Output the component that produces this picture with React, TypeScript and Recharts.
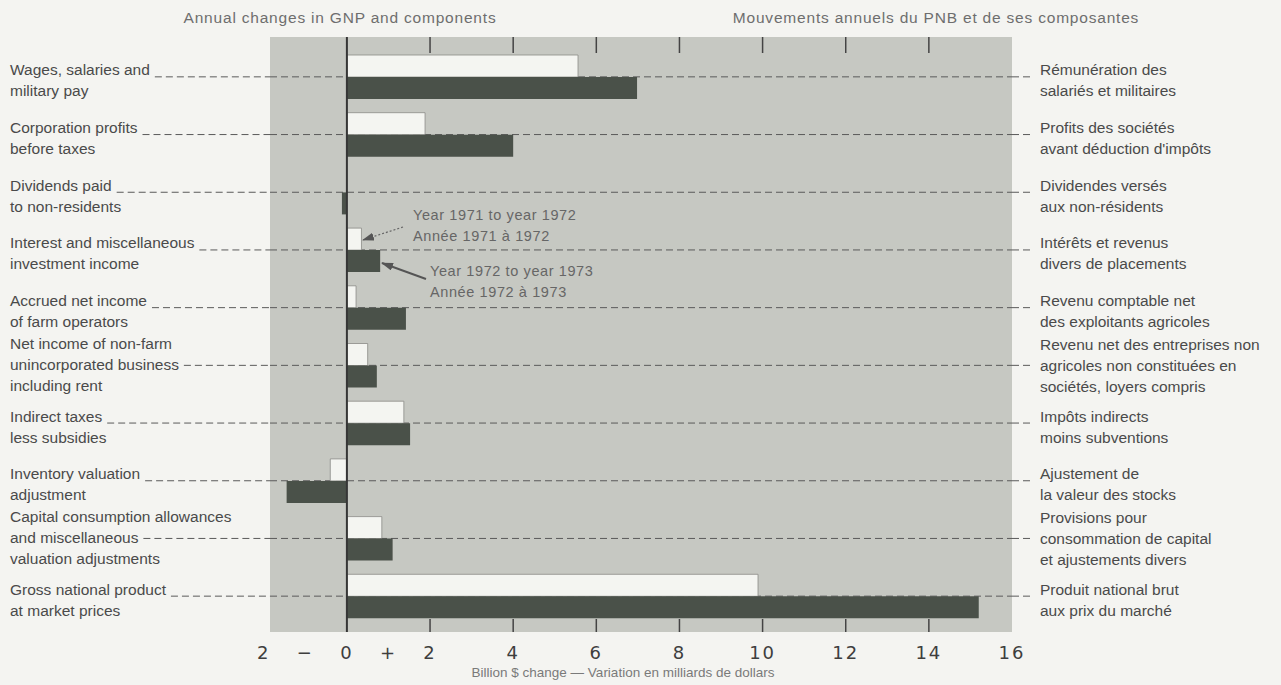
import React from 'react';
import { BarChart, Bar, XAxis, YAxis, CartesianGrid, ReferenceLine } from 'recharts';

// ---------- data ----------
const labelsEn: string[][] = [
  ['Wages, salaries and', 'military pay'],
  ['Corporation profits', 'before taxes'],
  ['Dividends paid', 'to non-residents'],
  ['Interest and miscellaneous', 'investment income'],
  ['Accrued net income', 'of farm operators'],
  ['Net income of non-farm', 'unincorporated business', 'including rent'],
  ['Indirect taxes', 'less subsidies'],
  ['Inventory valuation', 'adjustment'],
  ['Capital consumption allowances', 'and miscellaneous', 'valuation adjustments'],
  ['Gross national product', 'at market prices'],
];
const labelsFr: string[][] = [
  ['Rémunération des', 'salariés et militaires'],
  ['Profits des sociétés', "avant déduction d'impôts"],
  ['Dividendes versés', 'aux non-résidents'],
  ['Intérêts et revenus', 'divers de placements'],
  ['Revenu comptable net', 'des exploitants agricoles'],
  ['Revenu net des entreprises non', 'agricoles non constituées en', 'sociétés, loyers compris'],
  ['Impôts indirects', 'moins subventions'],
  ['Ajustement de', 'la valeur des stocks'],
  ['Provisions pour', 'consommation de capital', 'et ajustements divers'],
  ['Produit national brut', 'aux prix du marché'],
];
const categories: string[] = labelsEn.map((l) => l.join(' '));
// Year 1971 to year 1972 (white bars)
const change1972: number[] = [5.56, 1.88, 0, 0.35, 0.22, 0.5, 1.37, -0.4, 0.84, 9.89];
// Year 1972 to year 1973 (dark bars)
const change1973: number[] = [6.98, 4.0, -0.12, 0.8, 1.42, 0.72, 1.52, -1.45, 1.1, 15.2];
const xTicks: number[] = [-2, -1, 0, 1, 2, 4, 6, 8, 10, 12, 14, 16];
const xTickText: Record<number, string> = { [-2]: '2', [-1]: '−', 0: '0', 1: '+' };

const data = categories.map((name, i) => ({ name, y1972: change1972[i], y1973: change1973[i] }));

// ---------- style ----------
const W = 1281;
const H = 685;
const PLOT_LEFT = 270;
const PLOT_RIGHT = 1012;
const PLOT_TOP = 37;
const PLOT_BOTTOM = 632;
const PAD_TOP = 11;
const PAD_BOTTOM = 7;
const BG = '#f4f4f1';
const GRAY = '#c6c8c2';
const WHITE_BAR = '#f4f5f1';
const DARK_BAR = '#4a5149';
const TEXT = '#4a4a4a';
const LABEL_FONT = "'Liberation Sans', Arial, sans-serif";
const LABEL_SIZE = 15.5;

let ctx: CanvasRenderingContext2D | null = null;
function textWidth(s: string, size: number, family: string): number {
  if (!ctx && typeof document !== 'undefined') {
    ctx = document.createElement('canvas').getContext('2d');
  }
  if (!ctx) return s.length * size * 0.5;
  ctx.font = `${size}px ${family}`;
  return ctx.measureText(s).width;
}

// grid lines only at the category band centres (no lines on the plot edges)
const gridRows = (): number[] => {
  const band = (PLOT_BOTTOM - PLOT_TOP - PAD_TOP - PAD_BOTTOM) / categories.length;
  return categories.map((_, i) => PLOT_TOP + PAD_TOP + band * (i + 0.5));
};

const CategoryTick = (props: any) => {
  const { y, payload } = props;
  const idx = categories.indexOf(payload.value);
  if (idx < 0) return null;
  const en = labelsEn[idx];
  const fr = labelsFr[idx];
  const lh = 21;
  const enDash = en.length === 3 ? 1 : 0;
  const enFirst = en.length === 3 ? y - 1 - lh : y - 7;
  const frFirst = fr.length === 3 ? y - lh : y - 7;
  const enDashEnd = 10 + textWidth(en[enDash], LABEL_SIZE, LABEL_FONT) + 5;
  return (
    <g>
      {en.map((t, i) => (
        <text
          key={'en' + i}
          x={10}
          y={enFirst + i * lh}
          dominantBaseline="central"
          fontFamily={LABEL_FONT}
          fontSize={LABEL_SIZE}
          fill={TEXT}
        >
          {t}
        </text>
      ))}
      <line x1={enDashEnd} x2={PLOT_LEFT} y1={y} y2={y} stroke="#5a5a5a" strokeDasharray="7 4" />
      {fr.map((t, i) => (
        <text
          key={'fr' + i}
          x={1040}
          y={frFirst + i * lh}
          dominantBaseline="central"
          fontFamily={LABEL_FONT}
          fontSize={LABEL_SIZE}
          fill={TEXT}
        >
          {t}
        </text>
      ))}
      <line x1={PLOT_RIGHT} x2={1033} y1={y} y2={y} stroke="#5a5a5a" strokeDasharray="7 4" />
    </g>
  );
};

const ValueTick = (props: any) => {
  const { x, payload } = props;
  const v = payload.value as number;
  const label = xTickText[v] !== undefined ? xTickText[v] : String(v);
  const mark = v >= 2 && v <= 14;
  return (
    <g>
      {mark && <line x1={x} x2={x} y1={PLOT_TOP} y2={PLOT_TOP + 16} stroke="#444" strokeWidth={1.5} />}
      {mark && <line x1={x} x2={x} y1={PLOT_BOTTOM - 13} y2={PLOT_BOTTOM} stroke="#444" strokeWidth={1.5} />}
      <text
        x={x}
        y={652}
        textAnchor="middle"
        dominantBaseline="central"
        fontFamily="'DejaVu Sans', sans-serif"
        fontSize={18}
        letterSpacing={2}
        fill="#3e3e3e"
      >
        {label}
      </text>
    </g>
  );
};

export default function App() {
  return (
    <div style={{ position: 'absolute', left: 0, top: 0, width: W, height: H, background: BG, overflow: 'hidden' }}>
      <BarChart
        width={W}
        height={H}
        data={data}
        layout="vertical"
        barSize={22}
        barGap={0}
        margin={{ top: PLOT_TOP, left: 20, right: W - PLOT_RIGHT, bottom: 13 }}
      >
        <CartesianGrid
          horizontal={true}
          vertical={false}
          fill={GRAY}
          fillOpacity={1}
          stroke="#5a5a5a"
          strokeDasharray="7 4"
          horizontalPoints={gridRows()}
        />
        <XAxis
          type="number"
          domain={[-1.85, 16]}
          ticks={xTicks}
          allowDataOverflow={true}
          height={40}
          axisLine={false}
          tickLine={false}
          tick={<ValueTick />}
          interval={0}
        />
        <YAxis
          type="category"
          dataKey="name"
          width={250}
          axisLine={false}
          tickLine={false}
          tick={<CategoryTick />}
          interval={0}
          padding={{ top: PAD_TOP, bottom: PAD_BOTTOM }}
        />
        <Bar dataKey="y1972" fill={WHITE_BAR} stroke="#8a8a86" strokeWidth={0.8} isAnimationActive={false} />
        <Bar dataKey="y1973" fill={DARK_BAR} isAnimationActive={false} />
        <ReferenceLine x={0} stroke="#363636" strokeWidth={2} />
      </BarChart>
      <svg
        width={W}
        height={H}
        style={{ position: 'absolute', left: 0, top: 0, pointerEvents: 'none' }}
      >
        <defs>
          <marker id="arrowHead" viewBox="0 0 12 8" refX="11" refY="4" markerWidth="12" markerHeight="8" markerUnits="userSpaceOnUse" orient="auto">
            <path d="M0,0 L12,4 L0,8 z" fill="#555" />
          </marker>
        </defs>
        <text x={340} y={17} textAnchor="middle" dominantBaseline="central" fontFamily={LABEL_FONT} fontSize={15.5} letterSpacing={0.8} fill="#6e6e6e">
          Annual changes in GNP and components
        </text>
        <text x={936} y={17} textAnchor="middle" dominantBaseline="central" fontFamily={LABEL_FONT} fontSize={15.5} letterSpacing={0.8} fill="#6e6e6e">
          Mouvements annuels du PNB et de ses composantes
        </text>
        <text x={623} y={672} textAnchor="middle" dominantBaseline="central" fontFamily={LABEL_FONT} fontSize={13.5} fill="#7a7a7a">
          Billion $ change — Variation en milliards de dollars
        </text>
        <g fontFamily={LABEL_FONT} fontSize={14.5} fill="#666" letterSpacing={0.6}>
          <text x={413} y={215} dominantBaseline="central">Year 1971 to year 1972</text>
          <text x={413} y={236} dominantBaseline="central">Année 1971 à 1972</text>
          <text x={430} y={271} dominantBaseline="central">Year 1972 to year 1973</text>
          <text x={430} y={292} dominantBaseline="central">Année 1972 à 1973</text>
        </g>
        <line x1={403} y1={227} x2={363} y2={240} stroke="#666" strokeWidth={1.2} strokeDasharray="2 2" markerEnd="url(#arrowHead)" />
        <line x1={426} y1={279} x2={382} y2={263} stroke="#555" strokeWidth={2} markerEnd="url(#arrowHead)" />
      </svg>
    </div>
  );
}
